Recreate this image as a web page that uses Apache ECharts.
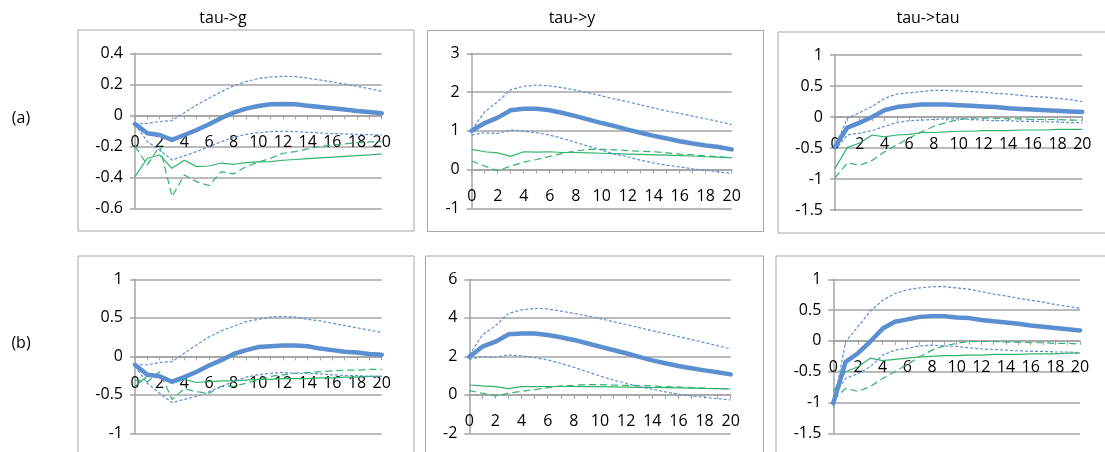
<!DOCTYPE html>
<html>
<head>
<meta charset="utf-8">
<script src="https://cdn.jsdelivr.net/npm/echarts@6/dist/echarts.min.js"></script>
<style>
  html, body { margin: 0; padding: 0; background: #fff; }
  #chart { width: 1105px; height: 452px; }
</style>
</head>
<body>
<div id="chart"></div>
<script>
// ---------------- data ----------------
const categories = ['0','1','2','3','4','5','6','7','8','9','10','11','12','13','14','15','16','17','18','19','20'];
const panelTitles = ['tau->g', 'tau->y', 'tau->tau'];
const rowLabels = ['(a)', '(b)'];

// (a) tau->g
const aG_est = [-0.056,-0.116,-0.127,-0.159,-0.127,-0.095,-0.058,-0.017,0.017,0.043,0.060,0.071,0.073,0.071,0.062,0.054,0.045,0.037,0.028,0.022,0.013];
const aG_hi  = [-0.056,-0.052,-0.040,-0.034,0.017,0.067,0.110,0.153,0.190,0.217,0.237,0.247,0.252,0.250,0.240,0.228,0.215,0.202,0.187,0.172,0.155];
const aG_lo  = [-0.056,-0.170,-0.224,-0.288,-0.262,-0.234,-0.202,-0.170,-0.142,-0.123,-0.112,-0.105,-0.103,-0.105,-0.110,-0.114,-0.118,-0.120,-0.123,-0.125,-0.127];
const aG_g1  = [-0.396,-0.277,-0.256,-0.342,-0.290,-0.331,-0.327,-0.308,-0.316,-0.305,-0.301,-0.299,-0.290,-0.285,-0.280,-0.275,-0.270,-0.265,-0.260,-0.255,-0.249];
const aG_g2  = [-0.200,-0.320,-0.198,-0.525,-0.385,-0.428,-0.454,-0.363,-0.378,-0.331,-0.303,-0.277,-0.245,-0.234,-0.217,-0.202,-0.191,-0.185,-0.176,-0.172,-0.170];

// (a) tau->y
const aY_est = [1.00,1.20,1.34,1.53,1.57,1.57,1.53,1.46,1.38,1.29,1.20,1.12,1.03,0.95,0.87,0.80,0.73,0.67,0.62,0.58,0.52];
const aY_hi  = [1.02,1.49,1.75,2.06,2.15,2.18,2.16,2.11,2.05,1.98,1.90,1.82,1.75,1.67,1.59,1.51,1.45,1.38,1.31,1.24,1.16];
const aY_lo  = [0.89,0.95,0.93,1.02,0.99,0.95,0.89,0.80,0.70,0.60,0.50,0.40,0.33,0.24,0.17,0.11,0.07,0.02,-0.02,-0.06,-0.10];
const aY_g1  = [0.52,0.46,0.43,0.34,0.46,0.45,0.46,0.44,0.44,0.43,0.42,0.41,0.40,0.39,0.38,0.37,0.36,0.35,0.33,0.32,0.30];
const aY_g2  = [0.22,0.09,-0.03,0.09,0.19,0.26,0.34,0.42,0.48,0.52,0.52,0.51,0.49,0.47,0.46,0.43,0.40,0.38,0.35,0.33,0.31];

// (a) tau->tau
const aT_est = [-0.48,-0.17,-0.09,0.00,0.11,0.16,0.18,0.20,0.20,0.20,0.19,0.18,0.17,0.16,0.14,0.13,0.12,0.11,0.10,0.09,0.08];
const aT_hi  = [-0.48,-0.02,0.07,0.17,0.30,0.37,0.39,0.41,0.43,0.43,0.42,0.41,0.40,0.38,0.37,0.35,0.33,0.32,0.30,0.28,0.25];
const aT_lo  = [-0.53,-0.29,-0.26,-0.22,-0.15,-0.09,-0.06,-0.05,-0.04,-0.03,-0.03,-0.04,-0.05,-0.06,-0.06,-0.07,-0.07,-0.08,-0.08,-0.09,-0.09];
const aT_g1  = [-0.83,-0.49,-0.42,-0.29,-0.32,-0.29,-0.28,-0.25,-0.25,-0.24,-0.23,-0.23,-0.22,-0.22,-0.22,-0.21,-0.21,-0.21,-0.20,-0.20,-0.20];
const aT_g2  = [-0.98,-0.74,-0.78,-0.70,-0.56,-0.45,-0.34,-0.24,-0.15,-0.09,-0.04,-0.02,-0.02,-0.02,-0.03,-0.03,-0.04,-0.04,-0.04,-0.05,-0.05];

// (b) tau->g
const bG_est = [-0.11,-0.24,-0.26,-0.33,-0.27,-0.20,-0.12,-0.05,0.03,0.08,0.12,0.13,0.14,0.14,0.13,0.10,0.08,0.06,0.05,0.03,0.02];
const bG_hi  = [-0.11,-0.11,-0.08,-0.07,0.04,0.15,0.25,0.33,0.39,0.45,0.48,0.51,0.52,0.51,0.48,0.46,0.43,0.40,0.37,0.34,0.31];
const bG_lo  = [-0.13,-0.35,-0.48,-0.60,-0.56,-0.52,-0.46,-0.39,-0.33,-0.27,-0.24,-0.22,-0.21,-0.22,-0.22,-0.23,-0.24,-0.25,-0.25,-0.26,-0.26];
const bG_g1  = [-0.39,-0.26,-0.24,-0.35,-0.30,-0.34,-0.33,-0.32,-0.32,-0.31,-0.30,-0.30,-0.29,-0.29,-0.29,-0.28,-0.28,-0.27,-0.27,-0.26,-0.26];
const bG_g2  = [-0.31,-0.33,-0.20,-0.56,-0.42,-0.46,-0.48,-0.39,-0.39,-0.35,-0.31,-0.26,-0.24,-0.22,-0.21,-0.20,-0.19,-0.18,-0.18,-0.17,-0.17];

// (b) tau->y
const bY_est = [1.98,2.50,2.76,3.14,3.19,3.18,3.11,2.99,2.85,2.68,2.50,2.33,2.16,1.97,1.79,1.64,1.50,1.38,1.27,1.17,1.06];
const bY_hi  = [2.07,3.11,3.58,4.23,4.41,4.49,4.46,4.35,4.23,4.10,3.96,3.80,3.65,3.49,3.33,3.18,3.02,2.87,2.71,2.55,2.38];
const bY_lo  = [1.84,1.98,1.95,2.07,2.02,1.93,1.81,1.64,1.43,1.20,0.98,0.77,0.60,0.42,0.29,0.15,0.03,-0.06,-0.13,-0.20,-0.27];
const bY_g1  = [0.51,0.46,0.42,0.32,0.42,0.42,0.43,0.43,0.43,0.42,0.42,0.41,0.40,0.39,0.38,0.37,0.36,0.35,0.33,0.32,0.30];
const bY_g2  = [0.22,0.08,-0.06,0.08,0.18,0.27,0.37,0.46,0.49,0.53,0.53,0.51,0.49,0.48,0.46,0.42,0.41,0.37,0.35,0.32,0.30];

// (b) tau->tau
const bT_est = [-1.01,-0.34,-0.20,-0.01,0.20,0.31,0.35,0.39,0.40,0.40,0.38,0.37,0.34,0.32,0.30,0.28,0.25,0.23,0.21,0.19,0.17];
const bT_hi  = [-1.07,-0.01,0.23,0.48,0.66,0.77,0.83,0.86,0.88,0.88,0.86,0.84,0.80,0.76,0.73,0.69,0.66,0.63,0.59,0.56,0.53];
const bT_lo  = [-0.90,-0.61,-0.53,-0.42,-0.23,-0.15,-0.12,-0.08,-0.07,-0.08,-0.09,-0.11,-0.13,-0.14,-0.15,-0.16,-0.17,-0.17,-0.18,-0.18,-0.19];
const bT_g1  = [-0.82,-0.50,-0.42,-0.28,-0.32,-0.30,-0.28,-0.26,-0.25,-0.24,-0.24,-0.23,-0.23,-0.22,-0.22,-0.22,-0.21,-0.21,-0.21,-0.20,-0.20];
const bT_g2  = [-0.96,-0.77,-0.82,-0.74,-0.61,-0.50,-0.38,-0.26,-0.15,-0.08,-0.04,-0.01,-0.01,-0.01,-0.02,-0.02,-0.03,-0.03,-0.04,-0.04,-0.05];

// y-axis ranges per panel [min, max, interval]
const yRanges = [[-0.6,0.4,0.2],[-1,3,1],[-1.5,1,0.5],[-1,1,0.5],[-2,6,2],[-1.5,1,0.5]];

const panels = [
  [aG_est,aG_hi,aG_lo,aG_g1,aG_g2],
  [aY_est,aY_hi,aY_lo,aY_g1,aY_g2],
  [aT_est,aT_hi,aT_lo,aT_g1,aT_g2],
  [bG_est,bG_hi,bG_lo,bG_g1,bG_g2],
  [bY_est,bY_hi,bY_lo,bY_g1,bY_g2],
  [bT_est,bT_hi,bT_lo,bT_g1,bT_g2]
];

// ---------------- layout / style ----------------
const W = 1105, H = 452;
const FONT = '"Open Sans", Lato, sans-serif';
const BLUE = '#5b8fd2';
const GREEN = '#2fb46c';
const GRIDC = '#a3a3a3';
const gridBoxes = [
  {left:135,   width:246.7, top:53.3,  height:155},
  {left:471.7, width:260,   top:53.3,  height:155},
  {left:835,   width:247.3, top:55,    height:155},
  {left:135,   width:246.7, top:279.3, height:154},
  {left:469.3, width:261.4, top:279.3, height:154},
  {left:833.3, width:246.7, top:279.3, height:154}
];
const frames = [
  {x:78,  y:30,  w:336, h:201},
  {x:427.5, y:30.5, w:336, h:201},
  {x:778, y:32,  w:340, h:201},
  {x:78,  y:256, w:336, h:210},
  {x:425.5, y:256, w:338, h:210},
  {x:776, y:256, w:340, h:210}
];

const grid = [], xAxis = [], yAxis = [], series = [];
gridBoxes.forEach((g, i) => {
  const r = yRanges[i];
  // distance (px) of the zero line above the grid bottom, so the category axis sits at y = 0
  const zeroOffset = (0 - r[0]) / (r[1] - r[0]) * g.height;
  grid.push({left:g.left, top:g.top, width:g.width, height:g.height, containLabel:false});
  xAxis.push({
    type:'category', gridIndex:i, data:categories, boundaryGap:false,
    position:'bottom', offset:-zeroOffset,
    axisLine:{show:true, onZero:false, lineStyle:{color:GRIDC, width:1.5}},
    axisTick:{show:true, interval:0, length:4, lineStyle:{color:GRIDC, width:1}},
    axisLabel:{interval:1, margin:19, color:'#000', fontSize:16, fontFamily:FONT},
    splitLine:{show:false}
  });
  yAxis.push({
    type:'value', gridIndex:i, min:r[0], max:r[1], interval:r[2],
    axisLine:{show:true, lineStyle:{color:GRIDC, width:1.5}},
    axisTick:{show:true, length:5, lineStyle:{color:GRIDC, width:1.5}},
    axisLabel:{margin:12, color:'#000', fontSize:16, fontFamily:FONT},
    splitLine:{show:true, lineStyle:{color:GRIDC, width:1.5}}
  });
  const d = panels[i];
  series.push(
    {type:'line', xAxisIndex:i, yAxisIndex:i, data:d[4], symbol:'none', z:2,
     lineStyle:{color:GREEN, width:1.2, type:[7,4]}},
    {type:'line', xAxisIndex:i, yAxisIndex:i, data:d[3], symbol:'none', z:2,
     lineStyle:{color:GREEN, width:1.2, type:'solid'}},
    {type:'line', xAxisIndex:i, yAxisIndex:i, data:d[1], symbol:'none', z:3,
     lineStyle:{color:BLUE, width:1.2, type:[3,2]}},
    {type:'line', xAxisIndex:i, yAxisIndex:i, data:d[2], symbol:'none', z:3,
     lineStyle:{color:BLUE, width:1.2, type:[3,2]}},
    {type:'line', xAxisIndex:i, yAxisIndex:i, data:d[0], symbol:'none', z:4,
     lineStyle:{color:BLUE, width:4.5, type:'solid', cap:'round', join:'round'}}
  );
});

const graphic = [];
frames.forEach(f => {
  graphic.push({type:'rect', silent:true, z:-1,
    shape:{x:f.x, y:f.y, width:f.w, height:f.h},
    style:{fill:'none', stroke:'#a6a6a6', lineWidth:1}});
});
const titlePos = [[223,18],[572,18],[928,18]];
panelTitles.forEach((t, i) => {
  graphic.push({type:'text', silent:true, x:titlePos[i][0], y:titlePos[i][1],
    style:{text:t, fill:'#000', fontSize:16, fontFamily:FONT, align:'center', verticalAlign:'middle'}});
});
const rowPos = [[21,118],[21,343]];
rowLabels.forEach((t, i) => {
  graphic.push({type:'text', silent:true, x:rowPos[i][0], y:rowPos[i][1],
    style:{text:t, fill:'#000', fontSize:16, fontFamily:FONT, align:'center', verticalAlign:'middle'}});
});

const chart = echarts.init(document.getElementById('chart'), null, {renderer:'canvas', width:W, height:H});
chart.setOption({
  animation:false,
  backgroundColor:'#fff',
  grid, xAxis, yAxis, series, graphic
});
</script>
</body>
</html>
